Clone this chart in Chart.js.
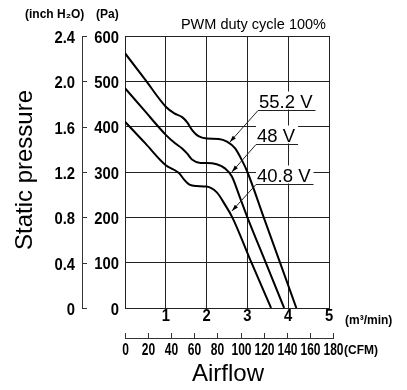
<!DOCTYPE html>
<html>
<head>
  <title>Static pressure vs Airflow</title>
  <script src="https://cdn.jsdelivr.net/npm/chart.js@4/dist/chart.umd.min.js"></script>
  <style>
    body { margin: 0; background: #fff; }
    canvas { display: block; }
  </style>
</head>
<body>
  <canvas id="myChart" width="407" height="390"></canvas>
  <script>
    // curves: airflow (m3/min) and static pressure (Pa)
    var flow552 = [0, 0.5, 1.0, 1.2, 1.4, 1.52, 1.65, 1.8, 2.0, 2.3, 2.5, 2.7, 2.87, 3.0, 3.4, 3.8, 4.2];
    var pa552   = [562, 503, 444, 430, 421, 410, 392, 379, 374, 373, 367, 352, 325, 300, 200, 100, 0];
    var flow48  = [0, 0.5, 1.0, 1.22, 1.4, 1.52, 1.65, 1.85, 2.0, 2.25, 2.45, 2.62, 2.8, 3.0, 3.45, 3.9];
    var pa48    = [485, 433, 382, 364, 352, 341, 327, 320, 320, 317, 308, 290, 248, 200, 100, 0];
    var flow408 = [0, 0.5, 1.0, 1.2, 1.33, 1.45, 1.58, 1.75, 2.0, 2.25, 2.45, 2.63, 3.1, 3.58];
    var pa408   = [411, 363, 315, 305, 297, 283, 272, 269, 268, 255, 228, 200, 100, 0];

    var seriesNames = ['55.2 V', '48 V', '40.8 V'];
    // where each label's leader arrow points (flow, Pa) and where its underline starts
    var arrowTip  = [[2.57, 366], [2.62, 300], [2.62, 214]];
    var labelAt   = [[3.25, 437], [3.21, 362], [3.21, 274]];

    var inchTicks = [0, 0.4, 0.8, 1.2, 1.6, 2.0, 2.4];
    var cfmTicks = [0, 20, 40, 60, 80, 100, 120, 140, 160, 180];
    var PA_PER_INCH = 250;
    var M3_PER_CFM = 0.0283168;

    var txtFont = "'Liberation Sans', Arial, Helvetica, sans-serif";

    function pts(xs, ys) {
      return xs.map(function (x, i) { return { x: x, y: ys[i] }; });
    }

    // condensed bold numbers, like the datasheet font
    function narrow(c, str, x, y, align, sx) {
      c.save();
      c.translate(x, y);
      c.scale(sx, 1);
      c.textAlign = align;
      c.fillText(str, 0, 0);
      c.restore();
    }

    var extras = {
      id: 'extras',
      afterDraw: function (chart) {
        var c = chart.ctx, xs = chart.scales.x, ys = chart.scales.y;
        c.save();
        c.strokeStyle = '#222';
        c.fillStyle = '#000';
        c.lineWidth = 1;
        c.textBaseline = 'middle';

        // main axis numbers (Pa and m3/min)
        c.font = 'bold 17px ' + txtFont;
        ys.ticks.forEach(function (t) {
          narrow(c, String(t.value), 119, ys.getPixelForValue(t.value) + 2, 'right', 0.87);
        });
        xs.ticks.forEach(function (t) {
          if (t.value === 0) return;
          narrow(c, String(t.value), xs.getPixelForValue(t.value), 316, 'center', 0.87);
        });

        // inch H2O axis
        var ax = 82;
        var top = Math.round(ys.getPixelForValue(600)), bot = Math.round(ys.getPixelForValue(0));
        c.fillStyle = '#333';
        c.fillRect(ax, top, 1, bot - top + 1);
        inchTicks.forEach(function (v) {
          var y = Math.round(ys.getPixelForValue(v * PA_PER_INCH));
          c.fillStyle = '#333';
          c.fillRect(ax, y, 5, 1);
          c.fillStyle = '#000';
          narrow(c, v === 0 ? '0' : v.toFixed(1), 75, y + 2, 'right', 0.87);
        });

        // CFM axis
        var ay = 338;
        var x0 = Math.round(xs.getPixelForValue(0)), x1 = Math.round(xs.getPixelForValue(180 * M3_PER_CFM));
        c.fillStyle = '#333';
        c.fillRect(x0, ay, x1 - x0 + 1, 1);
        c.font = 'bold 16px ' + txtFont;
        cfmTicks.forEach(function (v) {
          var x = Math.round(xs.getPixelForValue(v * M3_PER_CFM));
          c.fillStyle = '#333';
          c.fillRect(x, ay - 5, 1, 5);
          c.fillStyle = '#000';
          narrow(c, String(v), x + 0.5, 351, 'center', 0.75);
        });

        // unit labels
        c.fillStyle = '#000';
        c.font = 'bold 12px ' + txtFont;
        c.textAlign = 'left';
        c.fillText('(inch H\u2082O)', 25, 15);
        c.fillText('(Pa)', 96, 15);
        c.fillText('(m\u00b3/min)', 345, 321);
        c.fillText('(CFM)', 344, 351);

        c.font = '14.5px ' + txtFont;
        c.textAlign = 'right';
        c.fillText('PWM duty cycle 100%', 326, 25);

        // axis titles
        c.font = '24px ' + txtFont;
        c.textAlign = 'center';
        c.fillText('Airflow', 228, 374);
        c.save();
        c.translate(25, 170);
        c.rotate(-Math.PI / 2);
        c.fillText('Static pressure', 0, 0);
        c.restore();

        // curve labels with leader arrows
        c.font = '18.5px ' + txtFont;
        c.textAlign = 'left';
        c.textBaseline = 'alphabetic';
        seriesNames.forEach(function (name, i) {
          var lx = Math.round(xs.getPixelForValue(labelAt[i][0]));
          var ly = Math.round(ys.getPixelForValue(labelAt[i][1])) + 0.5;
          var w = c.measureText(name).width;
          c.fillStyle = '#fff';
          c.fillRect(lx, ly - 19, w + 4, 18);
          c.fillStyle = '#000';
          c.fillText(name, lx + 1, ly - 3);
          c.beginPath(); c.moveTo(lx, ly); c.lineTo(lx + w + 4, ly); c.stroke();
          var tx = xs.getPixelForValue(arrowTip[i][0]), ty = ys.getPixelForValue(arrowTip[i][1]);
          c.beginPath(); c.moveTo(lx, ly); c.lineTo(tx, ty); c.stroke();
          var ang = Math.atan2(ty - ly, tx - lx);
          c.beginPath();
          c.moveTo(tx, ty);
          c.lineTo(tx - 7 * Math.cos(ang - 0.3), ty - 7 * Math.sin(ang - 0.3));
          c.lineTo(tx - 7 * Math.cos(ang + 0.3), ty - 7 * Math.sin(ang + 0.3));
          c.closePath();
          c.fill();
        });
        c.restore();
      }
    };

    var lineStyle = { borderColor: '#000', borderWidth: 2, pointRadius: 0, fill: false, cubicInterpolationMode: 'monotone' };

    var ctx = document.getElementById('myChart').getContext('2d');
    var chart = new Chart(ctx, {
      type: 'line',
      data: {
        datasets: [
          Object.assign({ label: seriesNames[0], data: pts(flow552, pa552) }, lineStyle),
          Object.assign({ label: seriesNames[1], data: pts(flow48, pa48) }, lineStyle),
          Object.assign({ label: seriesNames[2], data: pts(flow408, pa408) }, lineStyle)
        ]
      },
      options: {
        responsive: false,
        animation: false,
        layout: { padding: { top: 36, right: 78, left: 0, bottom: 0 } },
        plugins: { legend: { display: false }, tooltip: { enabled: false } },
        scales: {
          x: {
            type: 'linear', min: 0, max: 5,
            ticks: { stepSize: 1, display: false },
            grid: { color: '#222', drawTicks: false },
            border: { color: '#222' },
            afterFit: function (s) { s.height = 82; }
          },
          y: {
            min: 0, max: 600,
            ticks: { stepSize: 100, display: false },
            grid: { color: '#222', drawTicks: false },
            border: { color: '#222' },
            afterFit: function (s) { s.width = 125; }
          }
        }
      },
      plugins: [extras]
    });
  </script>
</body>
</html>
